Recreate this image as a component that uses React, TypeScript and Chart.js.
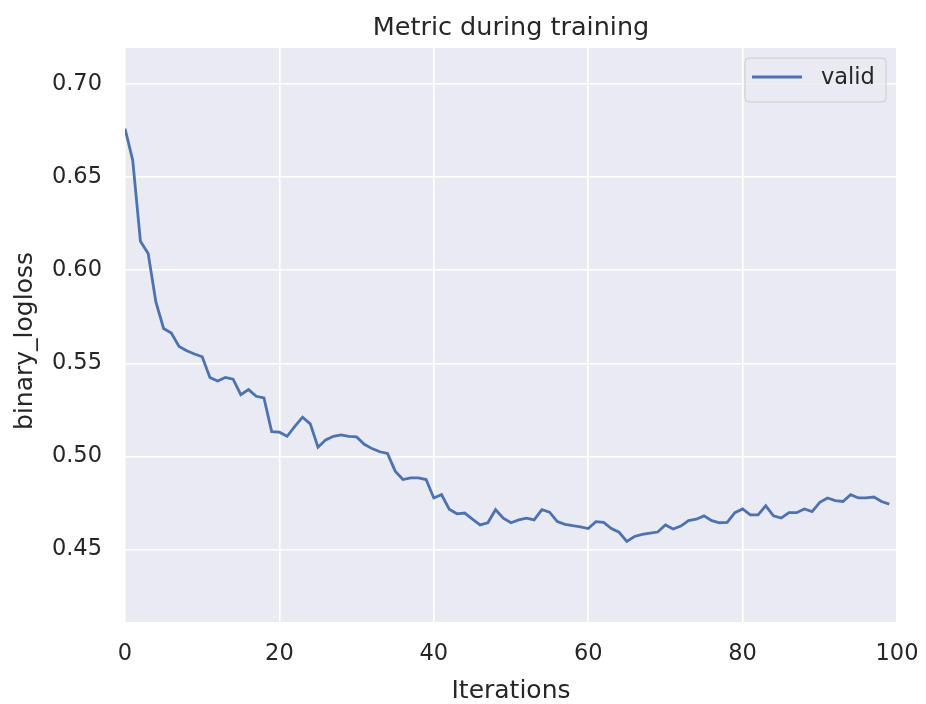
import React, { useEffect, useRef } from "react";
import { Chart, registerables } from "chart.js";

Chart.register(...registerables);

const TITLE = "Metric during training";
const X_LABEL = "Iterations";
const Y_LABEL = "binary_logloss";
const SERIES_NAME = "valid";

const ITERATIONS: number[] = Array.from({ length: 100 }, (_, i) => i);

const VALID_LOGLOSS: number[] = [
  0.676, 0.659, 0.6155, 0.609, 0.583, 0.5687, 0.5663, 0.559, 0.5567, 0.555,
  0.5535, 0.5424, 0.5405, 0.5424, 0.5415, 0.5332, 0.5359, 0.5323, 0.5314, 0.5133,
  0.513, 0.5108, 0.5161, 0.5211, 0.5175, 0.5049, 0.5089, 0.5108, 0.5116, 0.5108,
  0.5105, 0.5065, 0.5042, 0.5025, 0.5016, 0.4921, 0.4876, 0.4885, 0.4885, 0.4876,
  0.4777, 0.4795, 0.4717, 0.4692, 0.4696, 0.4663, 0.4632, 0.4644, 0.4714, 0.4669,
  0.4644, 0.4659, 0.4669, 0.4659, 0.4714, 0.4701, 0.465, 0.4635, 0.4628, 0.4622,
  0.4613, 0.465, 0.4646, 0.4613, 0.4593, 0.4544, 0.457, 0.4581, 0.4588, 0.4594,
  0.4632, 0.461, 0.4626, 0.4655, 0.4663, 0.4681, 0.4655, 0.4644, 0.4646, 0.4698,
  0.4718, 0.4686, 0.4686, 0.4735, 0.4681, 0.4669, 0.4698, 0.4698, 0.4718, 0.4704,
  0.4754, 0.4777, 0.4763, 0.4758, 0.4795, 0.4777, 0.4777, 0.4782, 0.4758, 0.4744,
];

const X_TICKS: number[] = [0, 20, 40, 60, 80, 100];
const Y_TICKS: number[] = [0.45, 0.5, 0.55, 0.6, 0.65, 0.7];
const X_RANGE: number[] = [0, 100];
const Y_RANGE: number[] = [0.4111, 0.7193];

const FONT = "'DejaVu Sans', sans-serif";
const TEXT_COLOR = "#262626";
const BG = "#EAEAF2";
const LINE_COLOR = "#4C72B0";

const decorPlugin = {
  id: "decor",
  beforeDraw(chart: any) {
    const { ctx, chartArea } = chart;
    ctx.save();
    ctx.fillStyle = "#ffffff";
    ctx.fillRect(0, 0, chart.width, chart.height);
    ctx.fillStyle = BG;
    ctx.fillRect(
      chartArea.left,
      chartArea.top,
      chartArea.right - chartArea.left,
      chartArea.bottom - chartArea.top
    );
    ctx.restore();
  },
  afterDraw(chart: any) {
    const { ctx, chartArea } = chart;
    const cx = (chartArea.left + chartArea.right) / 2;
    ctx.save();
    ctx.fillStyle = TEXT_COLOR;
    ctx.textAlign = "center";
    ctx.textBaseline = "alphabetic";
    ctx.font = `25.5px ${FONT}`;
    ctx.fillText(TITLE, cx, 35);
    ctx.font = `25px ${FONT}`;
    ctx.fillText(X_LABEL, cx, 698);
    ctx.save();
    ctx.translate(32, 341);
    ctx.rotate(-Math.PI / 2);
    ctx.fillText(Y_LABEL, 0, 0);
    ctx.restore();

    // legend
    const ds = chart.data.datasets[0];
    const bx = chartArea.right - 152;
    const by = chartArea.top + 10;
    const bw = 141;
    const bh = 44;
    const r = 4;
    ctx.beginPath();
    ctx.moveTo(bx + r, by);
    ctx.lineTo(bx + bw - r, by);
    ctx.arcTo(bx + bw, by, bx + bw, by + r, r);
    ctx.lineTo(bx + bw, by + bh - r);
    ctx.arcTo(bx + bw, by + bh, bx + bw - r, by + bh, r);
    ctx.lineTo(bx + r, by + bh);
    ctx.arcTo(bx, by + bh, bx, by + bh - r, r);
    ctx.lineTo(bx, by + r);
    ctx.arcTo(bx, by, bx + r, by, r);
    ctx.closePath();
    ctx.fillStyle = "rgba(234,234,242,0.8)";
    ctx.fill();
    ctx.strokeStyle = "#CCCCCC";
    ctx.lineWidth = 1;
    ctx.stroke();

    ctx.beginPath();
    ctx.strokeStyle = ds.borderColor;
    ctx.lineWidth = 2.8;
    ctx.moveTo(bx + 7, by + 19);
    ctx.lineTo(bx + 57, by + 19);
    ctx.stroke();

    ctx.fillStyle = TEXT_COLOR;
    ctx.font = `22.5px ${FONT}`;
    ctx.textAlign = "left";
    ctx.textBaseline = "middle";
    ctx.fillText(ds.label, bx + 76, by + 20);
    ctx.restore();
  },
};

export default function App() {
  const ref = useRef<HTMLCanvasElement | null>(null);

  useEffect(() => {
    document.body.style.margin = "0";
    const canvas = ref.current;
    if (!canvas) return;
    const chart = new Chart(canvas, {
      type: "line",
      data: {
        datasets: [
          {
            label: SERIES_NAME,
            data: ITERATIONS.map((x, i) => ({ x, y: VALID_LOGLOSS[i] })),
            borderColor: LINE_COLOR,
            borderWidth: 2.8,
            pointRadius: 0,
            tension: 0,
            fill: false,
          },
        ],
      },
      options: {
        responsive: false,
        animation: false,
        devicePixelRatio: 1,
        layout: { padding: { top: 48, right: 29, left: 0, bottom: 0 } },
        plugins: {
          legend: { display: false },
          title: { display: false },
          tooltip: { enabled: false },
        },
        scales: {
          x: {
            type: "linear",
            min: X_RANGE[0],
            max: X_RANGE[1],
            border: { display: false },
            grid: { color: "#ffffff", lineWidth: 1.6, drawTicks: false },
            ticks: {
              color: TEXT_COLOR,
              font: { family: FONT, size: 22.5 },
              padding: 19,
              maxRotation: 0,
              autoSkip: false,
            },
            afterBuildTicks: (scale: any) => {
              scale.ticks = X_TICKS.map((v) => ({ value: v }));
            },
            afterFit: (scale: any) => {
              scale.height = 82;
              scale.paddingLeft = 0;
              scale.paddingRight = 0;
            },
          },
          y: {
            type: "linear",
            min: Y_RANGE[0],
            max: Y_RANGE[1],
            border: { display: false },
            grid: { color: "#ffffff", lineWidth: 1.6, drawTicks: false },
            ticks: {
              color: TEXT_COLOR,
              font: { family: FONT, size: 22.5 },
              padding: 23,
              autoSkip: false,
              callback: (v: any) => Number(v).toFixed(2),
            },
            afterBuildTicks: (scale: any) => {
              scale.ticks = Y_TICKS.map((v) => ({ value: v }));
            },
            afterFit: (scale: any) => {
              scale.width = 125;
              scale.paddingTop = 0;
              scale.paddingBottom = 0;
            },
          },
        },
      },
      plugins: [decorPlugin],
    });
    return () => chart.destroy();
  }, []);

  return (
    <div style={{ width: 926, height: 704 }}>
      <canvas ref={ref} width={926} height={704} />
    </div>
  );
}
